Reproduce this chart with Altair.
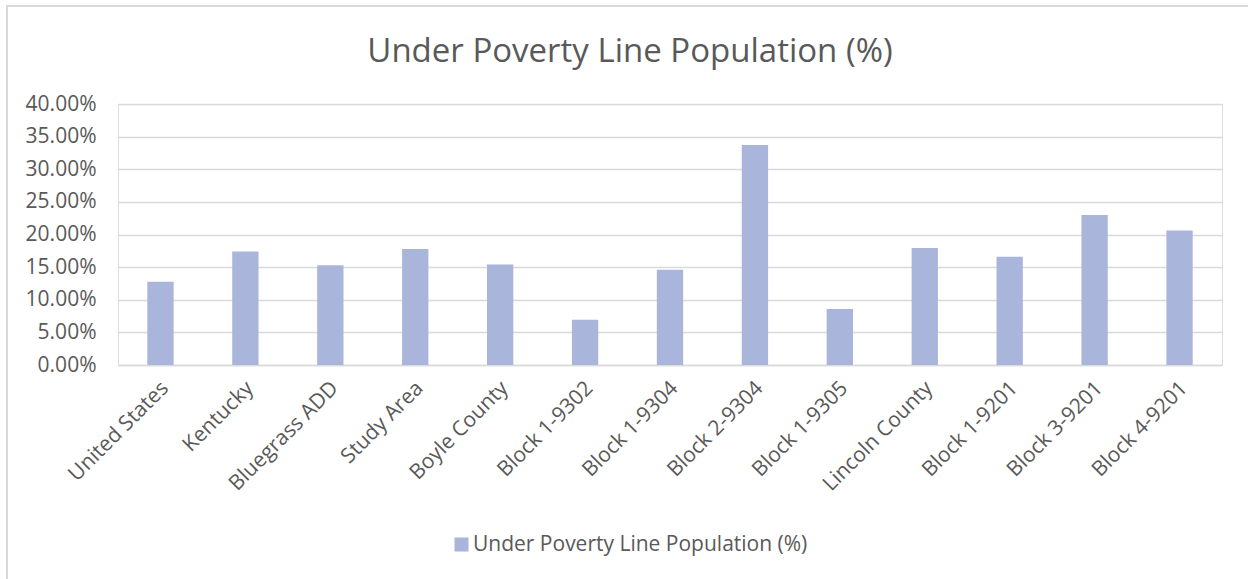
import altair as alt
import pandas as pd

categories = ["United States", "Kentucky", "Bluegrass ADD", "Study Area", "Boyle County",
              "Block 1-9302", "Block 1-9304", "Block 2-9304", "Block 1-9305", "Lincoln County",
              "Block 1-9201", "Block 3-9201", "Block 4-9201"]
values = [0.1276, 0.1740, 0.1527, 0.1776, 0.1540, 0.0694, 0.1460, 0.3370, 0.0858,
          0.1795, 0.1660, 0.2300, 0.2060]
series_name = "Under Poverty Line Population (%)"
y_ticks = [0, 0.05, 0.10, 0.15, 0.20, 0.25, 0.30, 0.35, 0.40]

df = pd.DataFrame({"Category": categories, "Value": values, "Series": series_name})

FONT = "Open Sans"
TXT = "#595959"
GRID = "#D9D9D9"

border = alt.Chart(pd.DataFrame({"k": [0]})).mark_rect(
    filled=False, stroke=GRID, strokeWidth=2
).encode(
    x=alt.value(-111), x2=alt.value(1150), y=alt.value(-98), y2=alt.value(500)
)

bars = alt.Chart(df).mark_bar(color="#A9B5DA").encode(
    x=alt.X("Category:N", sort=categories,
            scale=alt.Scale(paddingInner=0.69, paddingOuter=0.345),
            axis=alt.Axis(title=None, labelAngle=-45, labelFont=FONT, labelFontSize=21,
                          labelColor=TXT, domainColor=GRID, domainWidth=1.5, ticks=False,
                          labelPadding=12, labelOffset=-3, grid=False, labelLimit=0)),
    y=alt.Y("Value:Q", scale=alt.Scale(domain=[0, 0.4], nice=False),
            axis=alt.Axis(title=None, format=".2%", values=y_ticks, labelFont=FONT,
                          labelFontSize=21, labelColor=TXT, domain=False, ticks=False,
                          gridColor=GRID, gridWidth=1.5, labelPadding=22)),
    fill=alt.Fill("Series:N", scale=alt.Scale(range=["#A9B5DA"]),
                  legend=alt.Legend(title=None, orient="none", legendX=333, legendY=430,
                                    symbolType="square", symbolSize=196, symbolStrokeWidth=0,
                                    labelFont=FONT, labelFontSize=21, labelColor=TXT,
                                    labelLimit=0, symbolOpacity=1, labelOffset=1))
)

chart = alt.layer(border, bars).properties(
    width=1104, height=261,
    title=alt.TitleParams(series_name, anchor="middle", fontSize=33, font=FONT,
                          color=TXT, fontWeight="normal", dx=-40, offset=-64),
    autosize=alt.AutoSizeParams(type="none"),
    padding={"left": 118, "top": 104, "right": 26, "bottom": 214},
).configure_view(strokeWidth=0).configure(background="white")

chart.save("out.html", embed_options={"renderer": "svg", "actions": False})
